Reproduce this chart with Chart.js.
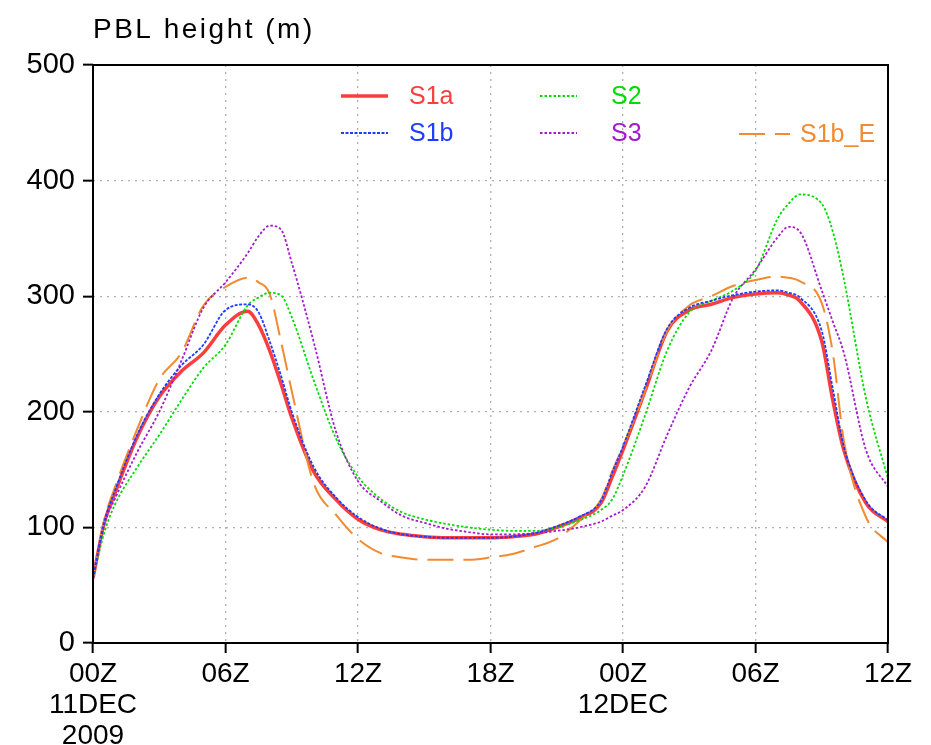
<!DOCTYPE html>
<html><head><meta charset="utf-8">
<script src="https://cdn.jsdelivr.net/npm/chart.js@4/dist/chart.umd.min.js"></script>
<style>html,body{margin:0;padding:0;background:#fff}canvas{display:block}</style>
</head><body>
<canvas id="c" width="931" height="745"></canvas>
<script>
// ---- data (hours since 00Z 11 DEC 2009) ----
const hours = [0,0.5,1,2,3,4,5,6,7,7.5,8,8.5,9,10,11,12,13,14,15,16,17,18,19,20,21,22,23,23.5,24,25,26,27,28,29,30,31,31.5,32,33,33.5,34,35,36];
const s1a  = [56,103,130,178,213,235,251,275,287,275,253,225,195,148,124,107,98,94,92,91,91,91,92,94,100,108,121,143,167,218,270,288,293,299,302,303,301,296,261,210,167,121,105];
const s1b  = [56,104,132,180,215,240,258,288,293,286,261,232,200,152,126,109,99,94,92,91,91,91,92,95,101,109,123,147,170,222,272,290,296,301,304,305,303,299,270,220,170,123,106];
const s2   = [56,95,120,152,180,210,238,258,292,299,303,301,282,227,177,144,125,113,107,103,100,98,97,97,100,106,115,124,145,197,253,286,296,305,322,367,380,388,380,356,315,212,142];
const s3   = [56,102,125,165,200,244,290,312,337,352,361,358,329,260,183,140,123,110,104,99,96,94,94,95,97,100,105,110,115,135,180,221,253,299,323,351,360,356,305,278,251,167,135];
const s1bE = [56,106,135,185,228,251,292,308,316,312,302,262,218,138,111,90,78,74,72,72,72,74,77,83,90,105,124,148,170,218,270,292,300,309,314,317,316,313,294,251,175,109,87];
const seriesNames = ['S1a','S1b','S2','S3','S1b_E'];
const yTickValues = [0,100,200,300,400,500];
const xTickHours  = [0,6,12,18,24,30,36];
const xTickLabels = ['00Z','06Z','12Z','18Z','00Z','06Z','12Z'];
const xDateLines  = [['11DEC','2009'],[],[],[],['12DEC'],[],[]];
const titleText = 'PBL height (m)';

const pts = arr => hours.map((h,i)=>({x:h,y:arr[i]}));
const FONT = 'Liberation Sans';

const datasets = [
  {label:seriesNames[0], data:pts(s1a),  borderColor:'rgb(250,62,62)', borderWidth:3.5, borderDash:[], order:5},
  {label:seriesNames[1], data:pts(s1b),  borderColor:'rgb(30,60,255)', borderWidth:1.8, borderDash:[3,1.5], order:1},
  {label:seriesNames[2], data:pts(s2),   borderColor:'rgb(0,220,0)', borderWidth:1.8, borderDash:[2.5,2], order:3},
  {label:seriesNames[3], data:pts(s3),   borderColor:'rgb(165,25,205)', borderWidth:1.8, borderDash:[2.5,2], order:2},
  {label:seriesNames[4], data:pts(s1bE), borderColor:'rgb(242,138,48)', borderWidth:2, borderDash:[26,10], order:4}
];

const legendLayout = [
  {x1:341,x2:388,y:96, tx:409},
  {x1:341,x2:388,y:133,tx:409},
  {x1:540,x2:577,y:96, tx:611},
  {x1:540,x2:577,y:133,tx:611},
  {x1:739,x2:790,y:134,tx:800}
];

const deco = {
  id:'deco',
  afterDraw(chart){
    const ctx = chart.ctx, a = chart.chartArea;
    ctx.save();
    // frame
    ctx.strokeStyle = '#000'; ctx.lineWidth = 2; ctx.setLineDash([]);
    ctx.strokeRect(a.left, a.top, a.right-a.left, a.bottom-a.top);
    // title
    ctx.fillStyle = '#000';
    ctx.font = '28px "'+FONT+'"';
    ctx.textBaseline = 'alphabetic'; ctx.textAlign = 'left';
    try { ctx.letterSpacing = '2.5px'; } catch(e){}
    ctx.fillText(titleText, 93, 38);
    try { ctx.letterSpacing = '0px'; } catch(e){}
    // legend
    ctx.font = '25px "'+FONT+'"';
    ctx.textBaseline = 'middle';
    chart.data.datasets.forEach((ds,i)=>{
      const L = legendLayout[i];
      ctx.strokeStyle = ds.borderColor;
      ctx.lineWidth = ds.borderWidth;
      ctx.setLineDash(ds.borderDash);
      ctx.beginPath(); ctx.moveTo(L.x1, L.y); ctx.lineTo(L.x2, L.y); ctx.stroke();
      ctx.fillStyle = ds.borderColor;
      ctx.fillText(ds.label, L.tx, L.y+1);
    });
    ctx.restore();
  }
};

new Chart(document.getElementById('c'), {
  type:'line',
  data:{datasets},
  options:{
    responsive:false, animation:false, devicePixelRatio:1,
    layout:{padding:{left:0, right:43, top:65, bottom:0}},
    elements:{point:{radius:0}, line:{cubicInterpolationMode:'monotone', fill:false}},
    plugins:{legend:{display:false}, tooltip:{enabled:false}, title:{display:false}},
    scales:{
      x:{
        type:'linear', min:0, max:36,
        afterFit(s){ s.height = 102; },
        afterBuildTicks(s){ s.ticks = xTickHours.map(v=>({value:v})); },
        ticks:{
          color:'#000', font:{family:FONT, size:28, lineHeight:1.1}, padding:6, maxRotation:0, autoSkip:false,
          callback(v){ const i = xTickHours.indexOf(v); return i<0 ? '' : [xTickLabels[i], ...xDateLines[i]]; }
        },
        grid:{color:'rgb(175,175,175)', lineWidth:1.3, drawTicks:true, tickLength:10, tickColor:'#000', tickWidth:2, tickBorderDash:[]},
        border:{display:false, dash:[2,5]}
      },
      y:{
        min:0, max:500,
        afterFit(s){ s.width = 93; },
        afterBuildTicks(s){ s.ticks = yTickValues.map(v=>({value:v})); },
        ticks:{color:'#000', font:{family:FONT, size:29}, padding:8},
        grid:{color:'rgb(175,175,175)', lineWidth:1.3, drawTicks:true, tickLength:10, tickColor:'#000', tickWidth:2, tickBorderDash:[]},
        border:{display:false, dash:[2,5]}
      }
    }
  },
  plugins:[deco]
});
</script>
</body></html>
